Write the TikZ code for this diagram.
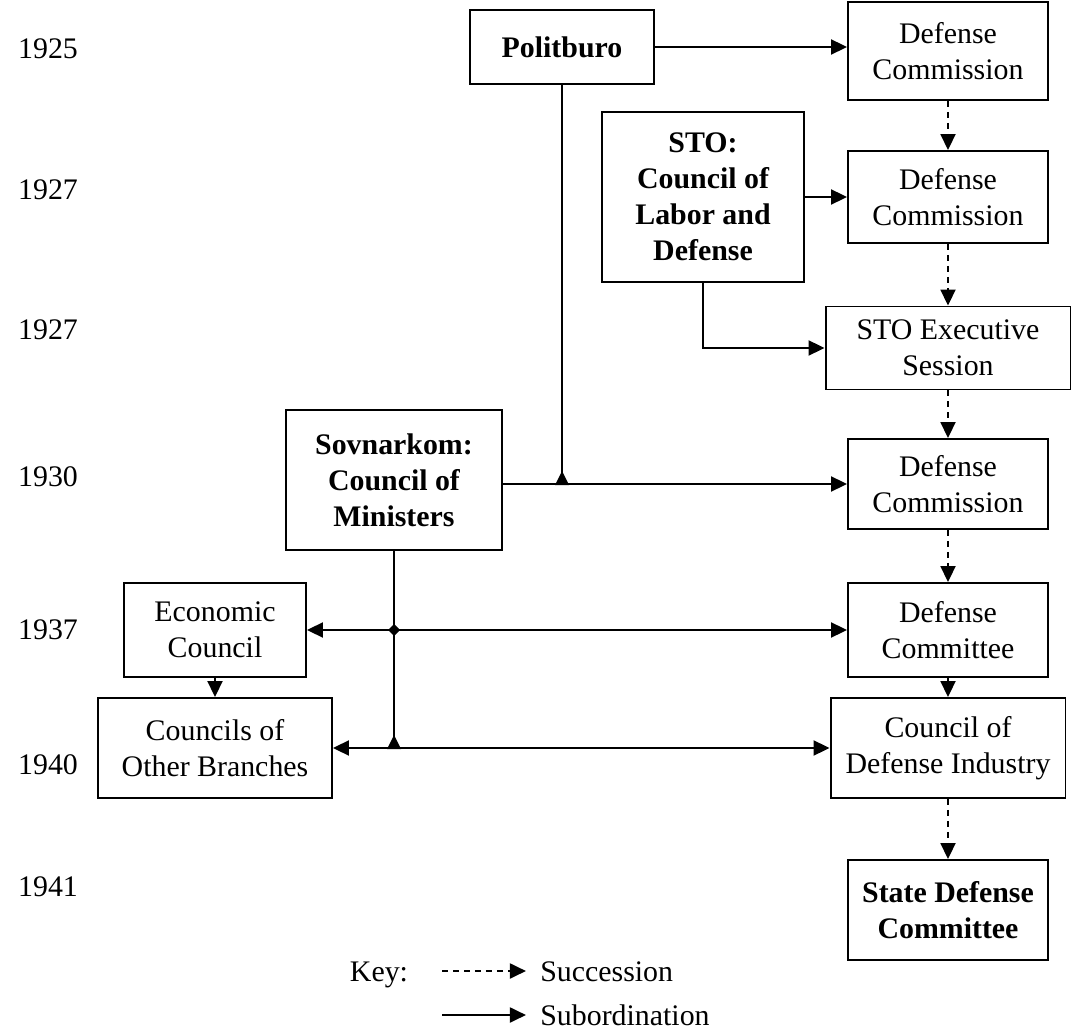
\documentclass[tikz,border=0pt]{standalone}
\usepackage{fontspec}
\setmainfont{Liberation Serif}
\usetikzlibrary{arrows.meta,positioning}

\tikzset{
  box/.style={draw, line width=1.1pt, align=center, inner sep=2pt,
    font=\fontsize{17}{20.5}\selectfont},
  boldbox/.style={box, font=\fontsize{17}{20.5}\selectfont\bfseries},
  subord/.style={line width=1.1pt, -{Triangle[length=0.32cm,width=0.3cm]}},
  both/.style={line width=1.1pt, {Triangle[length=0.32cm,width=0.3cm]}-{Triangle[length=0.32cm,width=0.3cm]}},
  succ/.style={subord, dash pattern=on 0.12cm off 0.1cm},
  lbl/.style={font=\fontsize{17}{20.5}\selectfont}
}

\begin{document}
\begin{tikzpicture}[x=0.02cm, y=-0.02cm]
\useasboundingbox (0,0) rectangle (1075,1030);

% Draw the years down the left side
\foreach \yr/\y [count=\i] in {1925/49, 1927/190, 1927/330, 1930/477, 1937/630, 1940/765, 1941/887} {
    \node[lbl] (year\i) at (48,\y) {\yr};
}

% Draw the boxes
\node[boldbox, minimum width=3.68cm, minimum height=1.48cm] (politburo) at (562,47) {Politburo};
\node[box, minimum width=4cm, minimum height=1.96cm] (dcA) at (948,51) {Defense\\Commission};
\node[boldbox, minimum width=4.04cm, minimum height=3.4cm] (sto) at (703,197) {STO:\\Council of\\Labor and\\Defense};
\node[box, minimum width=4cm, minimum height=1.84cm] (dcB) at (948,197) {Defense\\Commission};
\node[box, minimum width=4.9cm, minimum height=1.66cm] (stoexec) at (948,348) {STO Executive\\Session};
\node[box, minimum width=4cm, minimum height=1.8cm] (dcC) at (948,484) {Defense\\Commission};
\node[boldbox, minimum width=4.32cm, minimum height=2.8cm] (sovnarkom) at (394,480) {Sovnarkom:\\Council of\\Ministers};
\node[box, minimum width=3.64cm, minimum height=1.88cm] (econ) at (215,630) {Economic\\Council};
\node[box, minimum width=4cm, minimum height=1.88cm] (dcom) at (948,630) {Defense\\Committee};
\node[box, minimum width=4.68cm, minimum height=2cm] (branches) at (215,748) {Councils of\\Other Branches};
\node[box, minimum width=4.7cm, minimum height=2cm] (industry) at (948,748) {Council of\\Defense Industry};
\node[boldbox, minimum width=4cm, minimum height=2cm] (sdc) at (948,910) {State Defense\\Committee};

% Subordination lines
\coordinate (junA) at (politburo.south |- dcC.west);
\coordinate (junB) at (sovnarkom.south |- econ.east);
\coordinate (junC) at (sovnarkom.south |- branches.east);
\draw[subord] (politburo.east) -- (politburo.east -| dcA.west);
\draw[line width=1.1pt] (politburo.south) -- (junA);
\draw[subord] (sovnarkom.east |- dcC.west) -- (dcC.west);
\draw[subord] (sto.east) -- (sto.east -| dcB.west);
\draw[subord] (sto.south) |- (stoexec.west);
\draw[line width=1.1pt] (sovnarkom.south) -- (junC);
\draw[both] (econ.east) -- (dcom.west);
\draw[both] (branches.east) -- (industry.west);

% Junction marks
\fill (junA) ++(-7,1) -- ++(14,0) -- ++(-7,-14) -- cycle;
\fill (junB) ++(-6,0) -- ++(6,-6) -- ++(6,6) -- ++(-6,6) -- cycle;
\fill (junC) ++(-7,1) -- ++(14,0) -- ++(-7,-14) -- cycle;

% Succession lines
\draw[succ] (dcA) -- (dcB);
\draw[succ] (dcB) -- (stoexec);
\draw[succ] (stoexec) -- (dcC);
\draw[succ] (dcC) -- (dcom);
\draw[succ] (dcom) -- (industry);
\draw[succ] (industry) -- (sdc);
\draw[succ] (econ) -- (branches);

% Key
\node[lbl, anchor=base, inner sep=0pt] (key) at (379,981) {Key:};
\node[lbl, anchor=base west, inner sep=0pt] (keysucc) at (540,981) {Succession};
\node[lbl, anchor=base west, inner sep=0pt] (keysub) at (540,1025) {Subordination};
\coordinate (keyA) at (442,971);
\coordinate (keyB) at (442,1015);
\draw[succ] (keyA) -- ([xshift=-8pt]keysucc.west |- keyA);
\draw[subord] (keyB) -- ([xshift=-8pt]keysub.west |- keyB);

\end{tikzpicture}
\end{document}
